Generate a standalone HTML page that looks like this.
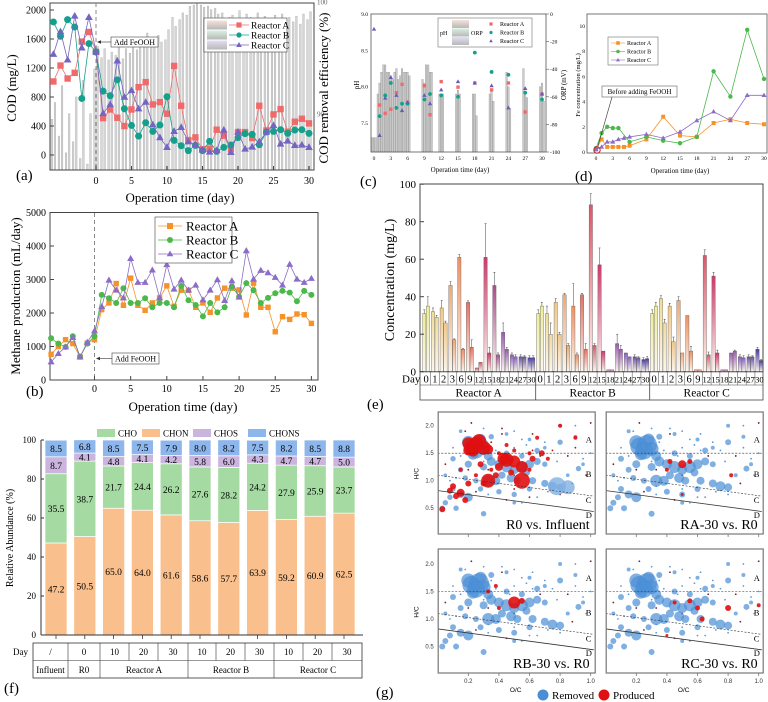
<!DOCTYPE html>
<html><head><meta charset="utf-8"><title>FeOOH reactor figure</title>
<style>
body{margin:0;background:#fff;}
svg{display:block;font-family:"Liberation Serif",serif;}
.sans{font-family:"Liberation Sans",sans-serif;}
</style></head>
<body>
<svg id="fig" width="768" height="702" viewBox="0 0 768 702">
<defs>
<linearGradient id="gLegA" x1="0" y1="0" x2="0" y2="1"><stop offset="0" stop-color="#f4e2da"/><stop offset="1" stop-color="#b8b8b8"/></linearGradient>
<linearGradient id="gLegB" x1="0" y1="0" x2="0" y2="1"><stop offset="0" stop-color="#d8f0e0"/><stop offset="1" stop-color="#b8b8b8"/></linearGradient>
<linearGradient id="gLegC" x1="0" y1="0" x2="0" y2="1"><stop offset="0" stop-color="#e2e0f0"/><stop offset="1" stop-color="#b8b8b8"/></linearGradient>
</defs>
</svg>
<script>
// ---------- DATA ----------
// Panel (a)
const daysA = [-6,-5,-4,-3,-2,-1,0,1,2,3,4,5,6,7,8,9,10,11,12,13,14,15,16,17,18,19,20,21,22,23,24,25,26,27,28,29,30];
const codA = [1014,1234,1055,1133,1564,1697,1422,509,628,514,399,628,936,1005,697,729,569,1229,679,206,243,78,87,349,266,78,316,316,234,679,339,560,633,321,459,500,436];
const codB = [1835,1638,1867,1766,780,1537,1422,881,817,1037,638,408,261,445,326,413,803,202,128,60,133,60,188,50,105,138,239,294,284,142,317,326,349,298,344,349,298];
const codC = [1390,1702,1312,1917,1477,1899,1422,573,697,1298,798,890,638,729,417,239,106,326,381,183,147,69,41,64,344,37,317,83,110,183,317,408,151,193,133,138,106];
const effA = [89.5,91,88,92.5,86.5,90,87.5,91.5,86,93,85.5,90,94,96,
95,95.8,94.8,95.5,95.2,96.3,94.9,95.8,95.4,96.7,95.7,96.2,96,97.2,96.5,96.8,97,96.4,96.6,97.5,
98.6,97.8,98.4,99,98.8,99.6,99.7,99.8,99.7,99.5,99.6,99.3,99.4,98.9,99,98.5,98.6,98.8,98.4,99.2,
98.2,98.9,98.6,98.3,99,98.5,98.7,97.9,98.4,98.8,98.1,98.9,97.5,98.6,98.2,98.7,98,98.9,98.4,99.1];
const codTicks = [0,400,800,1200,1600,2000];
const dayTicks = [0,5,10,15,20,25,30];
// Panel (b)
const ch4A = [767,1000,1205,1086,687,1100,1205,2100,2300,2880,2230,3040,2230,2080,2300,2450,2810,2200,2680,2680,2170,2300,2020,2450,2740,2740,2690,1940,2890,2170,2170,1440,1890,1810,1970,1950,1690];
const ch4B = [1245,1086,986,1305,697,1086,1305,2540,2440,2300,2740,2300,2300,2440,2170,2300,2300,2170,2810,2380,2240,1900,2300,2020,2170,2790,2490,2890,2680,2300,2450,2590,2660,2610,2350,2660,2540];
const ch4C = [538,787,986,1265,687,1125,1464,2190,2980,2680,2450,3625,2910,2910,3280,2450,3440,2710,2980,2680,2830,2390,2680,2990,2370,2960,2470,3855,3010,3270,3200,3060,2830,3450,3010,2910,3030];
const ch4Ticks = [0,1000,2000,3000,4000,5000];
// Panel (c)
const daysC = [0,1,2,3,4,5,6,9,10,12,15,18,21,24,27,30];
const orpA = [null,-66,-72,-69,-57,-51,-64,-52,-73,-49,-53,-50,-55,-50,-71,-58];
const orpB = [null,-74,-59,-50,-68,-65,-65,-62,-58,-59,-60,-28,-42,-44,-57,-62];
const orpC = [-11,-88,-61,-46,-59,-70,-64,-59,-65,-55,-49,-50,-52,-68,-54,-58];
const phA = [7.3,7.9,8.3,8.2,8.2,8.15,8.2,8.1,8.3,7.9,7.9,7.9,7.9,8.2,8.25,8.0];
const phB = [7.3,8.05,8.3,8.15,8.25,8.25,8.2,8.05,8.2,7.9,7.95,7.9,7.95,8.0,7.9,8.05];
const phC = [7.3,8.2,8.2,8.1,8.1,8.2,8.15,8.3,8.2,7.9,7.9,7.6,7.8,7.7,7.85,7.8];
const phTicks = [7.5,8.0,8.5,9.0];
const orpTicks = [0,-20,-40,-60,-80,-100];
const dayTicks3 = [0,3,6,9,12,15,18,21,24,27,30];
// Panel (d)
const daysD = [0,1,2,3,4,5,6,9,12,15,18,21,24,27,30];
const feA = [0.2,1.0,0.4,0.4,0.4,0.4,0.5,1.0,2.8,1.3,1.2,2.3,2.6,2.3,2.2];
const feB = [0.3,1.5,2.0,1.9,1.9,null,0.8,1.2,0.9,0.7,1.2,6.4,4.4,9.7,5.8];
const feC = [0.2,0.4,0.8,0.8,1.0,1.1,1.2,1.4,1.1,1.6,2.5,3.2,2.5,4.5,4.5];
const feTicks = [0,2,4,6,8,10];
// Panel (e)
const daysE = ['0','1','2','3','6','9','12','15','18','21','24','27','30'];
const reactorsE = ['Reactor A','Reactor B','Reactor C'];
const concA1 = [31,32,34,46,61,37,2,61,46,21,9,8,7.5];
const concA2 = [35,29,26,17,12,13,5,10,9,12,8,8,7.5];
const concB1 = [31,31,37,41,35,41,89,57,1,15,10,8,6.5];
const concB2 = [35,20,20,14,9,12,14,11,1,12,8,7.5,7];
const concC1 = [31,39,35,38,30,1,62,51,1,10,8,8,12];
const concC2 = [35,26,16,10,11,1,9,10,1,11,7.5,8,6];
const errA1 = [2,2,4,2,1.5,0.8,0,18,7,5,1,1,1];
const errA2 = [5,1,1,0.5,0.5,4,0,3,1,1,1,0.5,1];
const errB1 = [2,4,2,0.8,12,0.8,6,9,0,5,0,1,1];
const errB2 = [2,6,1,1,1,3,1,0,0,2,0,0.5,1];
const errC1 = [2,1.5,1.5,2,0,0,3,2,0,0,1,1,1];
const errC2 = [2,2,2.5,0,2.5,0,1.5,1.5,0,0.5,1,0.5,0.5];
const concTicks = [0,20,40,60,80,100];
// Panel (f)
const samplesF = ['/','0','10','20','30','10','20','30','10','20','30'];
const chon = [47.2,50.5,65.0,64.0,61.6,58.6,57.7,63.9,59.2,60.9,62.5];
const cho = [35.5,38.7,21.7,24.4,26.2,27.6,28.2,24.2,27.9,25.9,23.7];
const chos = [8.7,4.1,4.8,4.1,4.2,5.8,6.0,4.3,4.7,4.7,5.0];
const chons = [8.5,6.8,8.5,7.5,7.9,8.0,8.2,7.5,8.2,8.5,8.8];
const abTicks = [0,20,40,60,80,100];
// Panel (g)
const blueOC = [0.22,0.27,0.25,0.2,0.3,0.23,0.28,0.33,0.35,0.4,0.45,0.5,0.55,0.6,0.65,0.58,0.48,0.38,0.33,0.42,0.52,0.62,0.7,0.75,0.8,0.25,0.15,0.2,0.1,0.05,0.03,0.12,0.3,0.4,0.5,0.65,0.7,0.8,0.9,0.8,0.15,0.1,0.15,0.05,0.2,0.35,0.45,0.55,0.6,0.5,0.85,0.95,0.92,0.7,0.18,0.28,0.08,0.45,0.6,0.3];
const blueHC = [1.62,1.65,1.55,1.7,1.58,1.48,1.75,1.45,1.35,1.3,1.25,1.2,1.25,1.3,1.35,1.15,1.05,1.0,1.0,1.1,1.0,1.0,0.95,0.9,0.88,1.0,0.75,0.7,0.85,0.6,0.5,0.5,0.4,0.8,0.75,1.55,1.6,1.7,1.8,2.0,1.9,1.4,1.2,1.1,1.3,1.8,1.5,1.45,0.85,0.6,1.1,1.3,1.22,1.3,1.05,0.85,0.7,1.85,1.75,1.25];
const blueSz = [9,10,9,7,7,6,6,5,5,5,6,5,6,5,4,4,5,5,6,4,4,4,4,5,4,3,4,5,3,3,3,3,3,3,3,3,2,3,2,2,2,3,3,2,4,3,3,3,3,2,2,2,3,3,3,3,3,2,2,4];
const tinyOC = [0.05,0.1,0.12,0.18,0.22,0.3,0.35,0.38,0.42,0.47,0.5,0.5,0.5,0.55,0.58,0.62,0.67,0.7,0.75,0.78,0.85,0.9,0.95,1.0,0.33,0.33,0.33,0.5,0.25,0.4,0.6,0.72,0.88,0.97,0.15,0.08,0.45,0.55,0.65,0.8,0.2,0.3,0.62,0.9,1.0,0.42];
const tinyHC = [1.3,1.6,1.05,1.9,2.05,1.95,1.7,1.55,1.85,1.45,1.9,1.6,1.1,1.75,1.65,1.55,1.45,1.7,1.55,1.35,1.45,1.6,1.4,1.5,1.2,0.9,0.75,0.85,0.8,0.95,0.7,0.8,0.95,1.1,1.45,1.0,0.65,0.6,0.7,0.75,1.2,1.35,1.85,2.0,2.05,1.95];
const redOC1 = [0.25,0.22,0.3,0.2,0.33,0.45,0.43,0.5,0.55,0.55,0.33,0.4,0.28,0.15,0.18,0.1,0.03,0.2,0.3,0.62,0.68,0.72,0.8,0.9,0.35,0.4,0.5,0.6,0.12,0.08,0.25,0.65,0.48,0.38,0.15,0.45,0.6,0.27,0.23,0.2];
const redHC1 = [1.65,1.6,1.6,1.55,1.57,1.38,1.4,1.35,1.25,1.0,1.0,1.25,1.3,0.78,0.65,0.9,0.48,0.95,0.95,1.4,1.5,1.4,2.0,1.78,1.2,1.5,1.55,1.2,0.72,0.82,1.1,1.78,1.15,1.1,1.2,1.65,1.5,1.72,1.55,1.68];
const redSz1 = [8,7,7,5,5,7,6,6,6,8,7,4,3,4,3,3,3,3,3,3,3,2,2,2,2,2,2,2,3,3,2,2,3,3,2,2,2,7,6,6];
const redOC2 = [0.5,0.42,0.55,0.4,0.82,0.5];
const redHC2 = [1.3,1.35,1.35,1.2,1.1,0.75];
const redSz2 = [4,2.5,2.5,2,2,1.5];
const redOC3 = [0.5,0.55,0.33,0.38,0.4];
const redHC3 = [1.3,1.33,1.5,1.6,1.2];
const redSz3 = [6,3,2,2,2];
const redOC4 = [0.55,0.6,0.63,0.8,1.0,0.45,0.4];
const redHC4 = [1.33,1.2,1.0,1.2,1.25,1.3,0.7];
const redSz4 = [2.5,2.5,2.5,3,2,2,1.5];
const hcTicks = [0.5,1.0,1.5,2.0];
const ocTicks = [0.2,0.4,0.6,0.8,1.0];
const titlesG = ['R0 vs. Influent','RA-30 vs. R0','RB-30 vs. R0','RC-30 vs. R0'];

// ---------- HELPERS ----------
const NS='http://www.w3.org/2000/svg';
const svg=document.getElementById('fig');
function mk(tag,attrs,parent){const e=document.createElementNS(NS,tag);for(const k in attrs)e.setAttribute(k,attrs[k]);parent.appendChild(e);return e;}
function txt(s,attrs,parent){const e=mk('text',attrs,parent);e.textContent=s;return e;}
function markerShape(shape,x,y,s,fill,parent){
  let e;
  if(shape==='sq') e=mk('rect',{x:x-s,y:y-s,width:2*s,height:2*s,fill:fill},parent);
  else if(shape==='ci') e=mk('circle',{cx:x,cy:y,r:s,fill:fill},parent);
  else e=mk('polygon',{points:`${x},${y-s*1.15} ${x-s*1.1},${y+s*0.75} ${x+s*1.1},${y+s*0.75}`,fill:fill},parent);
  return e;
}
function series(days,vals,xf,yf,color,shape,size,name,parent,line){
  const pts=[];days.forEach((d,i)=>{if(vals[i]!==null)pts.push([xf(d),yf(vals[i])]);});
  if(line){const pl=mk('polyline',{points:pts.map(p=>p.join(',')).join(' '),fill:'none',stroke:color,'stroke-width':0.8},parent);
  
  }
  pts.forEach(p=>{const m=markerShape(shape,p[0],p[1],size,color,parent);
  
  });
}
function group(name){const g=mk('g',{},svg);return g;}

// ---------- PANEL A ----------
(function(){
const g=group('panel-a-cod');
const xA=d=>96+d*7.1, yA=v=>155-v*0.0725, yE=v=>1.7+(100-v)*11.2;
effA.forEach((v,i)=>{const d=-6+Math.floor(i/2)+(i%2?0.22:-0.22);const y=yE(v);
 const b=mk('rect',{x:xA(d)-0.8,y:y,width:1.6,height:170-y,fill:'#d6d6d6',stroke:'#aaaaaa','stroke-width':0.4},g);
 
 });
const fr=mk('rect',{x:50,y:3,width:264,height:167,fill:'none',stroke:'#444','stroke-width':1},g);


const dl=mk('line',{x1:xA(0),y1:3,x2:xA(0),y2:170,stroke:'#888','stroke-dasharray':'4,3'},g);


series(daysA,codA,xA,yA,'#ef6b6b','sq',3.2,'reactor-a-cod',g,true);
series(daysA,codB,xA,yA,'#15a08c','ci',3.5,'reactor-b-cod',g,true);
series(daysA,codC,xA,yA,'#7565c2','tri',3.5,'reactor-c-cod',g,true);
codTicks.forEach(v=>{const t=txt(v,{x:46,y:yA(v)+3.5,'font-size':10,'text-anchor':'end'},g);
 
 
 mk('line',{x1:50,y1:yA(v),x2:54,y2:yA(v),stroke:'#444'},g);});
dayTicks.forEach(v=>{const t=txt(v,{x:xA(v),y:184,'font-size':10,'text-anchor':'middle'},g);
 
 
 mk('line',{x1:xA(v),y1:170,x2:xA(v),y2:166,stroke:'#444'},g);});
[[100,'100'],[90,'90']].forEach(p=>{const t=txt(p[1],{x:317,y:yE(p[0])+3,'font-size':7,fill:'#666'},g);
 
 });
const yl=txt('COD (mg/L)',{x:0,y:0,'font-size':13,'text-anchor':'middle',transform:'translate(16,88) rotate(-90)'},g);


const yr=txt('COD removal efficiency (%)',{x:0,y:0,'font-size':13,'text-anchor':'middle',transform:'translate(328,88) rotate(-90)'},g);


const xl=txt('Operation time (day)',{x:180,y:202,'font-size':13,'text-anchor':'middle'},g);


const pl=txt('(a)',{x:16,y:180,'font-size':15},g);


const ab=mk('rect',{x:111,y:37,width:47,height:10,fill:'#fff',stroke:'#444','stroke-width':0.6},g);


txt('Add FeOOH',{x:134.5,y:45,'font-size':8,'text-anchor':'middle'},g);
mk('line',{x1:111,y1:42,x2:99,y2:42,stroke:'#333','stroke-width':0.6},g);
mk('polygon',{points:'97,42 101,40.3 101,43.7',fill:'#333'},g);
const lg=mk('rect',{x:204,y:18,width:83,height:34,fill:'#fff',stroke:'#444','stroke-width':0.6},g);


[['url(#gLegA)','#ef6b6b','sq','Reactor A'],['url(#gLegB)','#15a08c','ci','Reactor B'],['url(#gLegC)','#7565c2','tri','Reactor C']].forEach((e,i)=>{
 const y=25+i*10;
 mk('rect',{x:207,y:y-4.5,width:20,height:9,fill:e[0]},g);
 mk('line',{x1:229,y1:y,x2:249,y2:y,stroke:e[1],'stroke-width':0.8},g);
 markerShape(e[2],239,y,2.6,e[1],g);
 const t=txt(e[3],{x:251,y:y+3.5,'font-size':9.5},g);
 
 });
})();

// ---------- PANEL B ----------
(function(){
const g=group('panel-b-methane');
const xB=d=>94.5+d*7.23, yB=v=>380-v*0.0335;
const fr=mk('rect',{x:50,y:212.5,width:268,height:167.5,fill:'none',stroke:'#444','stroke-width':1},g);


const dl=mk('line',{x1:xB(0),y1:213,x2:xB(0),y2:380,stroke:'#888','stroke-dasharray':'4,3'},g);


series(daysA,ch4A,xB,yB,'#f5922a','sq',2.7,'reactor-a-methane',g,true);
series(daysA,ch4B,xB,yB,'#4cb84c','ci',3,'reactor-b-methane',g,true);
series(daysA,ch4C,xB,yB,'#8b6cc8','tri',3.2,'reactor-c-methane',g,true);
ch4Ticks.forEach(v=>{const t=txt(v,{x:46,y:yB(v)+3.5,'font-size':10,'text-anchor':'end'},g);
 
 
 mk('line',{x1:50,y1:yB(v),x2:54,y2:yB(v),stroke:'#444'},g);});
dayTicks.forEach(v=>{const t=txt(v,{x:xB(v),y:392,'font-size':10,'text-anchor':'middle'},g);
 
 
 mk('line',{x1:xB(v),y1:380,x2:xB(v),y2:376,stroke:'#444'},g);});
const yl=txt('Methane production (mL/day)',{x:0,y:0,'font-size':13,'text-anchor':'middle',transform:'translate(20,296) rotate(-90)'},g);


const xl=txt('Operation time (day)',{x:183,y:411,'font-size':13,'text-anchor':'middle'},g);


const pl=txt('(b)',{x:26,y:396,'font-size':15},g);


const ab=mk('rect',{x:112,y:353,width:47,height:11,fill:'#fff',stroke:'#444','stroke-width':0.6},g);


txt('Add FeOOH',{x:135.5,y:361.5,'font-size':8,'text-anchor':'middle'},g);
mk('line',{x1:112,y1:358.5,x2:98,y2:358.5,stroke:'#333','stroke-width':0.6},g);
mk('polygon',{points:'96,358.5 100,356.8 100,360.2',fill:'#333'},g);
const lg=mk('rect',{x:155,y:217,width:77,height:46,fill:'#fff',stroke:'#444','stroke-width':0.6},g);


[['#f5922a','sq','Reactor A'],['#4cb84c','ci','Reactor B'],['#8b6cc8','tri','Reactor C']].forEach((e,i)=>{
 const y=226+i*14;
 mk('line',{x1:158,y1:y,x2:182,y2:y,stroke:e[0],'stroke-width':0.8},g);
 markerShape(e[1],170,y,3,e[0],g);
 const t=txt(e[2],{x:186,y:y+4.5,'font-size':13},g);
 
 });
})();

// ---------- PANEL C ----------
(function(){
const g=group('panel-c-ph-orp');
const xC=d=>374+d*5.6, yO=v=>14-v*1.38, yP=p=>14+(9-p)*72.7;
[phA,phB,phC].forEach((arr,k)=>{daysC.forEach((d,i)=>{const y=yP(arr[i]);
 const b=mk('rect',{x:xC(d)-2.6+k*1.75,y:y,width:1.6,height:152-y,fill:'#cacaca',stroke:'#8a8a8a','stroke-width':0.3},g);
 
 });});
const fr=mk('rect',{x:371,y:14,width:175,height:138,fill:'none',stroke:'#555','stroke-width':0.8},g);


series(daysC,orpA,xC,yO,'#ef6b6b','sq',1.7,'reactor-a-orp',g,false);
series(daysC,orpB,xC,yO,'#15a08c','ci',1.9,'reactor-b-orp',g,false);
series(daysC,orpC,xC,yO,'#6a5ab8','tri',2,'reactor-c-orp',g,false);
phTicks.forEach(v=>{const t=txt(v.toFixed(1),{x:368,y:yP(v)+2,'font-size':5.5,'text-anchor':'end'},g);
 
 });
orpTicks.forEach(v=>{const t=txt(v,{x:550,y:yO(v)+2,'font-size':5.5},g);
 
 
 mk('line',{x1:546,y1:yO(v),x2:549,y2:yO(v),stroke:'#555','stroke-width':0.6},g);});
dayTicks3.forEach(v=>{const t=txt(v,{x:xC(v),y:160,'font-size':5.5,'text-anchor':'middle'},g);
 
 });
const yl=txt('pH',{x:0,y:0,'font-size':7,'text-anchor':'middle',transform:'translate(359,85) rotate(-90)'},g);


const yr=txt('ORP (mV)',{x:0,y:0,'font-size':7,'text-anchor':'middle',transform:'translate(566,85) rotate(-90)'},g);


const xl=txt('Operation time (day)',{x:460,y:172,'font-size':7,'text-anchor':'middle'},g);


const pl=txt('(c)',{x:360,y:186,'font-size':15},g);


const lg=mk('rect',{x:438,y:18,width:94,height:29,fill:'#fff',stroke:'#555','stroke-width':0.5},g);


txt('pH',{x:440,y:35,'font-size':6},g);
txt('ORP',{x:471,y:35,'font-size':6},g);
['url(#gLegA)','url(#gLegB)','url(#gLegC)'].forEach((f,i)=>{mk('rect',{x:452,y:20+i*8.5,width:17,height:8,fill:f},g);});
[['#ef6b6b','sq','Reactor A'],['#15a08c','ci','Reactor B'],['#6a5ab8','tri','Reactor C']].forEach((e,i)=>{
 const y=24+i*8.5;
 markerShape(e[1],491,y,1.6,e[0],g);
 const t=txt(e[2],{x:500,y:y+2,'font-size':6},g);
 
 });
})();

// ---------- PANEL D ----------
(function(){
const g=group('panel-d-fe');
const xD=d=>596+d*5.6, yD=v=>152-v*12.6;
const fr=mk('rect',{x:587,y:14,width:180,height:139,fill:'none',stroke:'#555','stroke-width':0.8},g);


series(daysD,feA,xD,yD,'#f5922a','sq',2,'reactor-a-fe',g,true);
series(daysD,feB,xD,yD,'#4cb84c','ci',2.2,'reactor-b-fe',g,true);
series(daysD,feC,xD,yD,'#8b6cc8','tri',2.3,'reactor-c-fe',g,true);
feTicks.forEach(v=>{const t=txt(v,{x:585,y:yD(v)+2,'font-size':5.5,'text-anchor':'end'},g);
 
 });
dayTicks3.forEach(v=>{const t=txt(v,{x:xD(v),y:160,'font-size':5.5,'text-anchor':'middle'},g);
 
 });
const yl=txt('Fe concentration (mg/L)',{x:0,y:0,'font-size':6.5,'text-anchor':'middle',transform:'translate(580,85) rotate(-90)'},g);


const xl=txt('Operation time (day)',{x:680,y:173,'font-size':7,'text-anchor':'middle'},g);


const pl=txt('(d)',{x:575,y:181,'font-size':15},g);


const hc=mk('circle',{cx:597,cy:150,r:3.2,fill:'none',stroke:'#d02020','stroke-width':1},g);


mk('line',{x1:612,y1:97,x2:598,y2:146,stroke:'#333','stroke-width':0.6},g);
const ab=mk('rect',{x:602,y:86,width:75,height:11,fill:'#fff',stroke:'#444','stroke-width':0.5},g);


txt('Before adding FeOOH',{x:639.5,y:94,'font-size':7,'text-anchor':'middle'},g);
const lg=mk('rect',{x:608,y:37,width:50,height:28,fill:'#fff',stroke:'#555','stroke-width':0.5},g);


[['#f5922a','sq','Reactor A'],['#4cb84c','ci','Reactor B'],['#8b6cc8','tri','Reactor C']].forEach((e,i)=>{
 const y=43+i*8.5;
 mk('line',{x1:611,y1:y,x2:625,y2:y,stroke:e[0],'stroke-width':0.6},g);
 markerShape(e[1],618,y,1.8,e[0],g);
 const t=txt(e[2],{x:627,y:y+2.2,'font-size':6},g);
 
 });
})();

// ---------- PANEL E ----------
(function(){
const g=group('panel-e-concentration');
const yC=v=>371.7-v*1.875;
const cw=8.77, starts=[421.7,535.7,649.7];
const dayCols=['#eeee9a','#f0dc98','#f0c88a','#f0a870','#ee9062','#e87060','#e05468','#c83c6c','#b04a90','#9a58b0','#8460bc','#6a4cae','#4a3a9a'];
const defs=svg.querySelector('defs');
dayCols.forEach((c,i)=>{const lgd=mk('linearGradient',{id:'gd'+i,x1:0,y1:0,x2:0,y2:1},defs);
 mk('stop',{offset:0,'stop-color':c},lgd);mk('stop',{offset:1,'stop-color':'#fbf6ee'},lgd);});
const fr=mk('rect',{x:420,y:184,width:343,height:187.7,fill:'none',stroke:'#444','stroke-width':1},g);


const sets=[[concA1,concA2,errA1,errA2],[concB1,concB2,errB1,errB2],[concC1,concC2,errC1,errC2]];
sets.forEach((s,r)=>{daysE.forEach((d,i)=>{[0,1].forEach(k=>{
 const v=s[k][i], e=s[k+2][i], x=starts[r]+i*cw+0.8+k*3.7, y=yC(v);
 const b=mk('rect',{x:x,y:y,width:3.4,height:371.7-y,fill:'url(#gd'+i+')',stroke:'#555','stroke-width':0.35},g);
 
 
 if(e>0){const eb=mk('path',{d:`M${x+1.7},${y} V${yC(v+e)} M${x+0.7},${yC(v+e)} H${x+2.7}`,stroke:'#444','stroke-width':0.5,fill:'none'},g);
 
 }
 });});});
concTicks.forEach(v=>{const t=txt(v,{x:416,y:yC(v)+4,'font-size':11,'text-anchor':'end'},g);
 
 
 mk('line',{x1:420,y1:yC(v),x2:424,y2:yC(v),stroke:'#444'},g);});
const yl=txt('Concentration (mg/L)',{x:0,y:0,'font-size':14,'text-anchor':'middle',transform:'translate(394,280) rotate(-90)'},g);


mk('rect',{x:420,y:371.7,width:343,height:28.3,fill:'none',stroke:'#444','stroke-width':0.8},g);
mk('line',{x1:420,y1:385,x2:763,y2:385,stroke:'#444','stroke-width':0.6},g);
const dlab=txt('Day',{x:402,y:382.5,'font-size':11},g);


starts.forEach((sx,r)=>{
 if(r>0) mk('line',{x1:sx,y1:371.7,x2:sx,y2:400,stroke:'#444','stroke-width':0.8},g);
 daysE.forEach((d,i)=>{
  if(i>0) mk('line',{x1:sx+i*cw,y1:371.7,x2:sx+i*cw,y2:385,stroke:'#444','stroke-width':0.5},g);
  const t=txt(d,{x:sx+i*cw+cw/2,y:382.5,'font-size':d.length>1?8.5:10.5,'text-anchor':'middle'},g);
  
  });
 const rt=txt(reactorsE[r],{x:sx+57,y:396.5,'font-size':11.5,'text-anchor':'middle'},g);
 
 });
const pl=txt('(e)',{x:367,y:409,'font-size':15},g);


})();

// ---------- PANEL F ----------
(function(){
const g=group('panel-f-abundance');
const yF=v=>635-v*1.95, xF=i=>56+i*28.8;
const cols={CHON:'#f9bf8c',CHO:'#a5daa2',CHOS:'#cbb4dd',CHONS:'#8db6ec'};
const layers=[['CHON',chon],['CHO',cho],['CHOS',chos],['CHONS',chons]];
samplesF.forEach((s,i)=>{let base=0;layers.forEach(L=>{const v=L[1][i];
 const r=mk('rect',{x:xF(i)-11,y:yF(base+v),width:22,height:v*1.95,fill:cols[L[0]],stroke:'#fff','stroke-width':0.7},g);
 
 
 const t=txt(v.toFixed(1),{x:xF(i),y:yF(base+v/2)+3.5,'font-size':9.5,'text-anchor':'middle'},g);
 
 
 base+=v;});
 mk('line',{x1:xF(i),y1:635,x2:xF(i),y2:639,stroke:'#333','stroke-width':0.8},g);});
mk('line',{x1:41,y1:440,x2:41,y2:635,stroke:'#333','stroke-width':1},g);
mk('line',{x1:41,y1:635,x2:363,y2:635,stroke:'#333','stroke-width':1},g);
abTicks.forEach(v=>{const t=txt(v,{x:36,y:yF(v)+3,'font-size':9,'text-anchor':'end'},g);
 
 
 mk('line',{x1:41,y1:yF(v),x2:44,y2:yF(v),stroke:'#333'},g);});
const yl=txt('Relative Abundance (%)',{x:0,y:0,'font-size':10,'text-anchor':'middle',transform:'translate(13,538) rotate(-90)'},g);


[['CHO',97],['CHON',142],['CHOS',193],['CHONS',248]].forEach(e=>{
 mk('rect',{x:e[1],y:429,width:18,height:8,fill:cols[e[0]]},g);
 const t=txt(e[0],{x:e[1]+21,y:436.5,'font-size':9},g);
 
 });
const cx=[33,68,100,129,158,188,216,245,274,303,332,362];
mk('rect',{x:33,y:643,width:329,height:35,fill:'none',stroke:'#333','stroke-width':0.8},g);
mk('line',{x1:33,y1:660.5,x2:362,y2:660.5,stroke:'#333','stroke-width':0.6},g);
const dl=txt('Day',{x:13,y:655,'font-size':9},g);


samplesF.forEach((s,i)=>{ if(i>0) mk('line',{x1:cx[i],y1:643,x2:cx[i],y2:660.5,stroke:'#333','stroke-width':0.6},g);
 const t=txt(s,{x:(cx[i]+cx[i+1])/2,y:655,'font-size':9,'text-anchor':'middle'},g);
 
 });
[[33,68,'Influent'],[68,100,'R0'],[100,188,'Reactor A'],[188,274,'Reactor B'],[274,362,'Reactor C']].forEach((c,i)=>{
 if(i>0) mk('line',{x1:c[0],y1:660.5,x2:c[0],y2:678,stroke:'#333','stroke-width':0.6},g);
 const t=txt(c[2],{x:(c[0]+c[1])/2,y:673,'font-size':9,'text-anchor':'middle'},g);
 
 });
const pl=txt('(f)',{x:4,y:693,'font-size':15},g);


})();

// ---------- PANEL G ----------
(function(){
const g=group('panel-g-van-krevelen');
const panels=[[437.7,425.7,412,534,[redOC1,redHC1,redSz1]],[605.7,425.7,412,534,[redOC2,redHC2,redSz2]],[437.7,564,549,673,[redOC3,redHC3,redSz3]],[605.7,564,549,673,[redOC4,redHC4,redSz4]]];
panels.forEach((p,pi)=>{
 const x0=p[0], y20=p[1];
 const xG=oc=>x0+oc*153, yG=hc=>y20+(2.0-hc)*55;
 const sg=mk('g',{},g);
 
 
 const clip=mk('clipPath',{id:'cp'+pi},svg.querySelector('defs'));
 mk('rect',{x:x0+0.5,y:p[2],width:157,height:p[3]-p[2]},clip);
 const cg=mk('g',{'clip-path':'url(#cp'+pi+')'},sg);
 tinyOC.forEach((oc,i)=>{const c=mk('circle',{cx:xG(oc),cy:yG(tinyHC[i]),r:0.9,fill:(i%3===0&&pi===0)?'#a01818':(i%4===0?'#6a2030':'#5a9ae0')},cg);
  
  });
 blueOC.forEach((oc,i)=>{const c=mk('circle',{cx:xG(oc),cy:yG(blueHC[i]),r:blueSz[i]*(pi===0?0.9:1),fill:'#4a8fd6','fill-opacity':0.7},cg);
  
  });
 if(pi===0){[[0.78,0.9,9],[0.85,0.88,7]].forEach(b=>{const c=mk('circle',{cx:xG(b[0]),cy:yG(b[1]),r:b[2],fill:'#7fb0e4','fill-opacity':0.8},cg);
  
  });}
 const R=p[4];
 R[0].forEach((oc,i)=>{const c=mk('circle',{cx:xG(oc),cy:yG(R[1][i]),r:R[2][i],fill:'#e01010','fill-opacity':0.9},cg);
  
  });
 mk('line',{x1:x0,y1:yG(1.5),x2:x0+157,y2:yG(1.5),stroke:'#333','stroke-width':0.6,'stroke-dasharray':'2,1.5'},cg);
 mk('line',{x1:x0,y1:yG(1.1),x2:xG(1.02),y2:yG(0.72),stroke:'#333','stroke-width':0.6,'stroke-dasharray':'2,1.5'},cg);
 mk('line',{x1:x0,y1:yG(0.82),x2:xG(1.02),y2:yG(0.44),stroke:'#333','stroke-width':0.8},cg);
 const fr=mk('rect',{x:x0+0.5,y:p[2],width:157,height:p[3]-p[2],fill:'none',stroke:'#777','stroke-width':1.2},sg);
 
 
 ocTicks.forEach(v=>{mk('line',{x1:xG(v),y1:p[3],x2:xG(v),y2:p[3]+3,stroke:'#777','stroke-width':0.8},sg);});
 [['A',1.75],['B',1.12],['C',0.65],['D',0.38]].forEach(z=>{const t=txt(z[0],{x:x0+148,y:yG(z[1])+3,'font-size':8.5},sg);
  
  });
 const tt=txt(titlesG[pi],{x:x0+152,y:p[3]-5,'font-size':14,'text-anchor':'end'},sg);
 
 
 if(pi%2===0){hcTicks.forEach(v=>{const t=txt(v.toFixed(1),{x:x0-4,y:yG(v)+2,'font-size':6,'text-anchor':'end',class:'sans',fill:'#333'},sg);
   
   });
  const yl=txt('H/C',{x:0,y:0,'font-size':6.5,'text-anchor':'middle',class:'sans',transform:`translate(${x0-19},${y20+48}) rotate(-90)`},sg);
  
  }
 if(pi>=2){ocTicks.forEach(v=>{const t=txt(v.toFixed(1),{x:xG(v),y:683,'font-size':6,'text-anchor':'middle',class:'sans',fill:'#333'},sg);
   
   });
  const xl=txt('O/C',{x:x0+78,y:692,'font-size':6.5,'text-anchor':'middle',class:'sans'},sg);
  
  }
});
const lb=mk('circle',{cx:543,cy:695,r:5.5,fill:'#4a8fd6'},g);


const lt=txt('Removed',{x:552,y:699,'font-size':11},g);


const lr=mk('circle',{cx:604,cy:695,r:5.5,fill:'#e01010'},g);


const lt2=txt('Produced',{x:613,y:699,'font-size':11},g);


const pl=txt('(g)',{x:376,y:697,'font-size':15},g);


})();
</script>
</body></html>
